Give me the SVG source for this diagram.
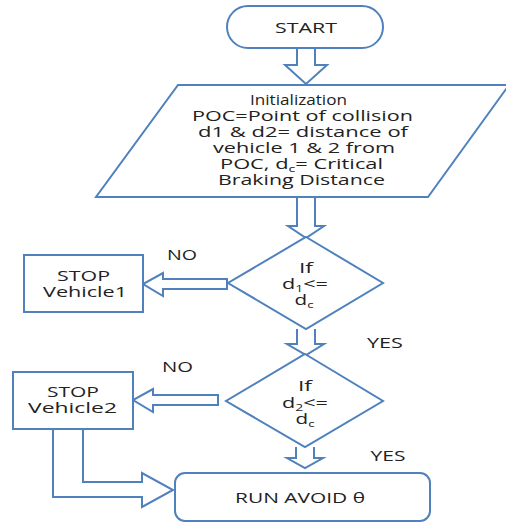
<svg xmlns="http://www.w3.org/2000/svg" width="506" height="523" viewBox="0 0 506 523">
<style>
.s{fill:#fff;stroke:#4f81bd;stroke-width:2;stroke-linejoin:miter}
.a{fill:#fff;stroke:#4f81bd;stroke-width:2;stroke-linejoin:miter}
text{font-family:"Open Sans","Liberation Sans",sans-serif;font-size:14px;fill:#222;text-anchor:middle}
.sub{font-size:9px}
</style>
<rect width="506" height="523" fill="#fff"/>
<g id="connectors">
<path class="a" d="M297,48 V65 H285 L306,84 L327,65 H315 V48"/>
<path class="a" d="M297,197 V226 H288 L306,238 L324,226 H315 V197"/>
<path class="a" d="M297,329 V344 H287 L306,355 L324,344 H315 V329"/>
<path class="a" d="M296,447 V458 H287 L305,468 L323,458 H314 V447"/>
<path class="a" d="M227,279 H163 V273 L143,284 L163,296 V289 H227 Z"/>
<path class="a" d="M218,395 H153 V389 L133,400 L153,412 V405 H218 Z"/>
<path class="a" d="M53,429 V497 H142 V507 L173,490 L142,473 V482 H83 V429"/>
<text x="182" y="260" textLength="30" lengthAdjust="spacingAndGlyphs">NO</text>
<text x="385" y="348" textLength="36" lengthAdjust="spacingAndGlyphs">YES</text>
<text x="177.5" y="372" textLength="31" lengthAdjust="spacingAndGlyphs">NO</text>
<text x="388" y="461" textLength="35" lengthAdjust="spacingAndGlyphs">YES</text>
</g>
<g id="start">
<rect class="s" x="227" y="6" width="156" height="42" rx="21"/>
<text x="306" y="33" textLength="62" lengthAdjust="spacingAndGlyphs">START</text>
</g>
<g id="init">
<polygon class="s" points="178,85 509,85 428,197 96,197"/>
<text x="298.5" y="105" textLength="97" lengthAdjust="spacingAndGlyphs">Initialization</text>
<text x="302.5" y="121" textLength="221" lengthAdjust="spacingAndGlyphs">POC=Point of collision</text>
<text x="303" y="137" textLength="210" lengthAdjust="spacingAndGlyphs">d1 &amp; d2= distance of</text>
<text x="304" y="153" textLength="182" lengthAdjust="spacingAndGlyphs">vehicle 1 &amp; 2 from</text>
<text x="301.5" y="169" textLength="163" lengthAdjust="spacingAndGlyphs">POC, d<tspan class="sub" dy="3">c</tspan><tspan dy="-3">= Critical</tspan></text>
<text x="301.5" y="185" textLength="167" lengthAdjust="spacingAndGlyphs">Braking Distance</text>
</g>
<g id="decision1">
<polygon class="s" points="306,237 383,283 306,329 228,283"/>
<text x="306" y="273" textLength="14" lengthAdjust="spacingAndGlyphs">If</text>
<text x="305" y="289" textLength="46" lengthAdjust="spacingAndGlyphs">d<tspan class="sub" dy="3">1</tspan><tspan dy="-3">&lt;=</tspan></text>
<text x="304" y="305" textLength="19" lengthAdjust="spacingAndGlyphs">d<tspan class="sub" dy="3">c</tspan></text>
</g>
<g id="stop1">
<rect class="s" x="24" y="255" width="119" height="57"/>
<text x="83.5" y="281" textLength="53" lengthAdjust="spacingAndGlyphs">STOP</text>
<text x="85" y="297" textLength="84" lengthAdjust="spacingAndGlyphs">Vehicle1</text>
</g>
<g id="decision2">
<polygon class="s" points="305,354 383,401 305,447 226,401"/>
<text x="305" y="391" textLength="14" lengthAdjust="spacingAndGlyphs">If</text>
<text x="305" y="408" textLength="46" lengthAdjust="spacingAndGlyphs">d<tspan class="sub" dy="3">2</tspan><tspan dy="-3">&lt;=</tspan></text>
<text x="305" y="424" textLength="19" lengthAdjust="spacingAndGlyphs">d<tspan class="sub" dy="3">c</tspan></text>
</g>
<g id="stop2">
<rect class="s" x="13" y="372" width="120" height="57"/>
<text x="73" y="397" textLength="52" lengthAdjust="spacingAndGlyphs">STOP</text>
<text x="72.5" y="413" textLength="89" lengthAdjust="spacingAndGlyphs">Vehicle2</text>
</g>
<g id="run">
<rect class="s" x="175" y="473" width="255" height="48" rx="10"/>
<text x="300" y="503" textLength="130" lengthAdjust="spacingAndGlyphs">RUN AVOID θ</text>
</g>
</svg>
